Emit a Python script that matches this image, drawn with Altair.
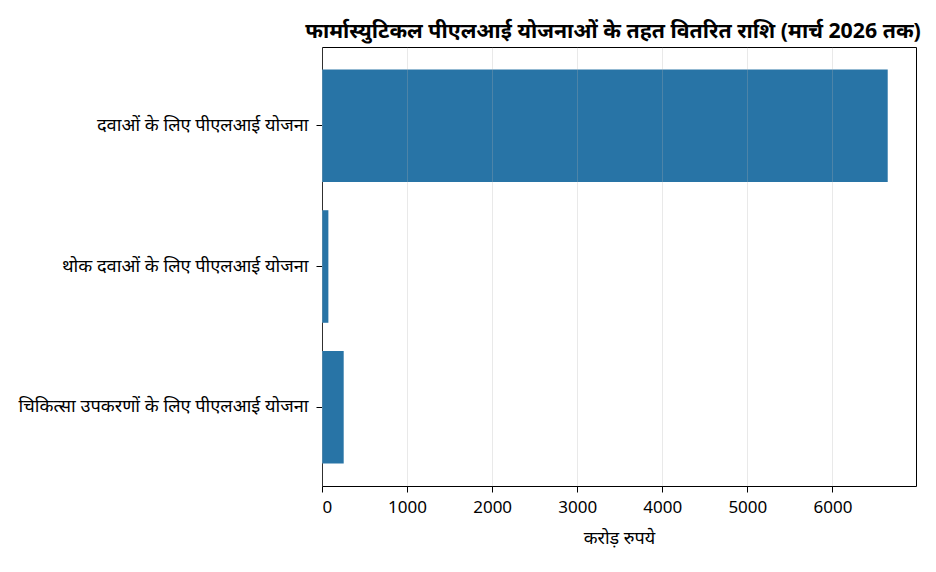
import pandas as pd
import altair as alt

# योजनाएँ और वितरित राशि (करोड़ रुपये)
schemes = [
    "दवाओं के लिए पीएलआई योजना",
    "थोक दवाओं के लिए पीएलआई योजना",
    "चिकित्सा उपकरणों के लिए पीएलआई योजना",
]
amounts = [6650, 75, 255]
x_ticks = [0, 1000, 2000, 3000, 4000, 5000, 6000]

df = pd.DataFrame({"scheme": schemes, "amount": amounts})

FONT = "Noto Sans"

chart = alt.Chart(df).mark_bar(color="#2874a6").encode(
    x=alt.X(
        "amount:Q",
        title="करोड़ रुपये",
        scale=alt.Scale(domain=[0, 6982.5], nice=False, zero=True),
        axis=alt.Axis(
            values=x_ticks,
            format="d",
            grid=True,
            gridColor="#b0b0b0",
            gridOpacity=0.35,
            gridWidth=0.8,
            domain=False,
            tickColor="black",
            tickSize=6,
            labelFontSize=17,
            labelColor="black",
            labelPadding=7,
            titleFontSize=18,
            titleFontWeight="normal",
            titleColor="black",
            titlePadding=14,
            zindex=1,
        ),
    ),
    y=alt.Y(
        "scheme:N",
        sort=schemes,
        title=None,
        scale=alt.Scale(paddingInner=0.2, paddingOuter=0.16),
        axis=alt.Axis(
            domain=False,
            tickColor="black",
            tickSize=6,
            labelFontSize=18.2,
            labelColor="black",
            labelPadding=8,
            labelLimit=400,
        ),
    ),
).properties(
    width=594,
    height=439,
    title=alt.TitleParams(
        "फार्मास्युटिकल पीएलआई योजनाओं के तहत वितरित राशि (मार्च 2026 तक)",
        fontSize=21.3,
        fontWeight="bold",
        color="black",
        anchor="middle",
        dx=-6,
        offset=5,
    ),
    autosize=alt.AutoSizeParams(type="none"),
    padding={"left": 314, "top": 39, "right": 6, "bottom": 80},
).configure(
    font=FONT,
).configure_view(
    stroke="black",
    strokeWidth=1,
)

chart.save("out.html", embed_options={"renderer": "svg", "actions": False})
